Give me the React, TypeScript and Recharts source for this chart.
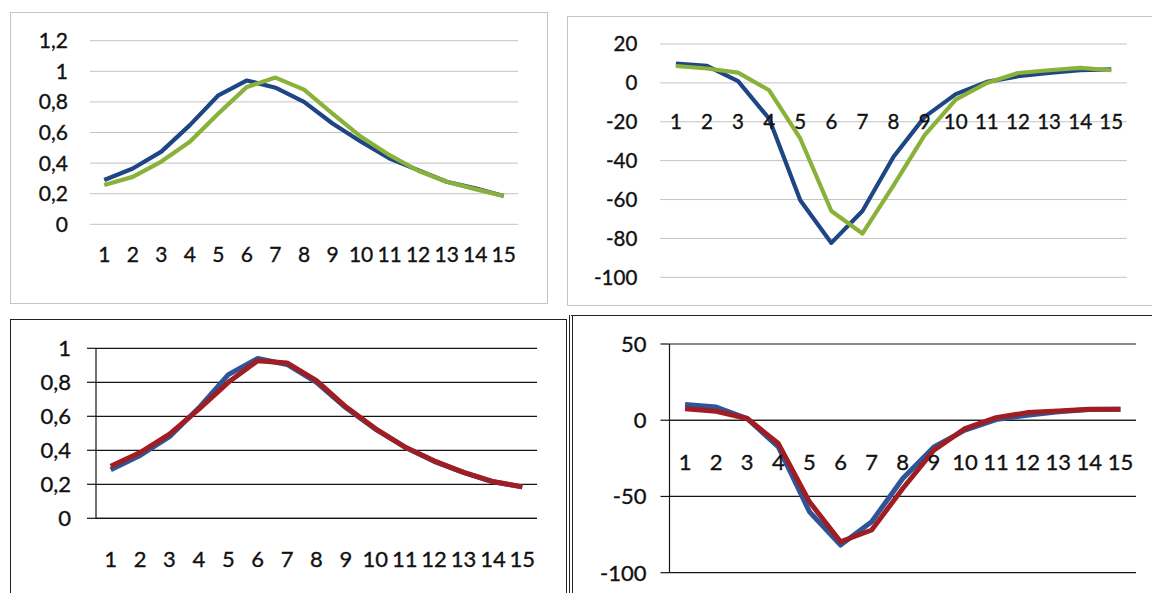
import React from 'react';
import { LineChart, Line, XAxis, YAxis, CartesianGrid, ReferenceDot, ReferenceLine } from 'recharts';

const categories = ['1', '2', '3', '4', '5', '6', '7', '8', '9', '10', '11', '12', '13', '14', '15'];
// category boundaries (tick marks between categories) on a 0..15 scale
const boundaries = [0, 1, 2, 3, 4, 5, 6, 7, 8, 9, 10, 11, 12, 13, 14, 15];

// top-left panel
const p1Blue = [0.29, 0.365, 0.475, 0.648, 0.843, 0.94, 0.893, 0.8, 0.659, 0.54, 0.43, 0.354, 0.278, 0.235, 0.185];
const p1Green = [0.257, 0.31, 0.41, 0.54, 0.724, 0.898, 0.959, 0.88, 0.724, 0.572, 0.452, 0.35, 0.278, 0.23, 0.185];
// top-right panel
const p2Blue = [9.9, 8.7, 0.9, -18.4, -60.4, -82.3, -65.9, -38, -17.5, -5.8, 0.5, 3.4, 5.1, 6.5, 6.9];
const p2Green = [8.7, 7.4, 5.3, -3.8, -28.6, -65.9, -77.5, -52.7, -26.9, -8.6, 0, 5.1, 6.5, 7.7, 6.5];
// bottom-left panel
const p3Blue = [0.285, 0.37, 0.48, 0.65, 0.845, 0.94, 0.905, 0.8, 0.65, 0.525, 0.42, 0.335, 0.27, 0.215, 0.185];
const p3Red = [0.306, 0.387, 0.495, 0.642, 0.8, 0.927, 0.914, 0.81, 0.656, 0.528, 0.42, 0.338, 0.27, 0.216, 0.185];
// bottom-right panel
const p4Blue = [10.3, 8.7, 1.1, -17.5, -60, -81.9, -66.6, -38.2, -17.5, -6.5, 0.4, 3.3, 5.5, 7, 7.2];
const p4Red = [7.6, 5.9, 1.1, -15.3, -53.5, -79.7, -72, -44.8, -19.7, -5.5, 1.7, 5, 6.1, 7.2, 7.2];

const p1Ticks = [0, 0.2, 0.4, 0.6, 0.8, 1, 1.2];
const p2Ticks = [-100, -80, -60, -40, -20, 0, 20];
const p3Ticks = [0, 0.2, 0.4, 0.6, 0.8, 1];
const p4Ticks = [-100, -50, 0, 50];

const p1Domain = [0, 1.2];
const p2Domain = [-100, 20];
const p3Domain = [0, 1];
const p4Domain = [-100, 50];
const p4UpperDomain = [0, 50];

const data1 = categories.map((c, i) => ({ cat: c, a: p1Blue[i], b: p1Green[i] }));
const data2 = categories.map((c, i) => ({ cat: c, a: p2Blue[i], b: p2Green[i] }));
const data3 = categories.map((c, i) => ({ cat: c, a: p3Blue[i], b: p3Red[i] }));
const data4 = categories.map((c, i) => ({ cat: c, a: p4Blue[i], b: p4Red[i] }));

const BLUE = '#1f4684';
const GREEN = '#8ab13a';
const BLUE2 = '#2d5597';
const RED = '#a01d22';
const TEXT = '#111111';
const GRID = '#c2c2c2';
const BLACK = '#151515';

const fmt = (v: number) => String(v).replace('.', ',');
const tickStyle = (fontSize: number) => ({ fontSize, fill: TEXT, stroke: TEXT, strokeWidth: 0.35 });
const NoLabel = () => <g />;

const zeroLabels = (prefix: string, fontSize: number, offset: number) =>
  categories.map((c) => (
    <ReferenceDot
      key={prefix + c}
      x={c}
      y={0}
      r={0}
      stroke="none"
      fill="none"
      ifOverflow="visible"
      label={{ value: c, position: 'bottom', offset, ...tickStyle(fontSize) }}
    />
  ));

// a transparent overlay whose only element is a category-boundary axis (tick marks between categories)
const BoundaryTicks = ({ width, height, left, right, top, domain }: any) => (
  <LineChart width={width} height={height} data={[]} margin={{ top, right, left, bottom: 0 }}>
    <XAxis
      xAxisId="edges"
      type="number"
      domain={[0, 15]}
      ticks={boundaries}
      allowDataOverflow
      interval={0}
      height={10}
      axisLine={false}
      tickLine={{ stroke: BLACK, strokeWidth: 1.2 }}
      tickSize={7}
      tick={NoLabel}
    />
    <YAxis domain={domain} hide />
  </LineChart>
);

export default function App() {
  return (
    <div
      style={{
        position: 'absolute',
        left: 0,
        top: 0,
        width: 1152,
        height: 593,
        overflow: 'hidden',
        background: '#ffffff',
        fontFamily: 'Lato, "Open Sans", sans-serif',
      }}
    >
      {/* frames */}
      <div style={{ position: 'absolute', left: 10, top: 12, width: 538, height: 292, boxSizing: 'border-box', border: '1px solid #c4c4c4' }} />
      <div style={{ position: 'absolute', left: 567, top: 16, width: 600, height: 290, boxSizing: 'border-box', border: '1px solid #c4c4c4' }} />
      <div style={{ position: 'absolute', left: 10, top: 319, width: 557, height: 300, boxSizing: 'border-box', border: '1px solid #222' }} />
      <div style={{ position: 'absolute', left: 569, top: 315, width: 600, height: 300, boxSizing: 'border-box', borderLeft: '4px double #222', borderTop: '1.5px solid #222' }} />

      {/* top-left */}
      <div style={{ position: 'absolute', left: 10, top: 12 }}>
        <LineChart width={538} height={292} data={data1} margin={{ top: 28.7, right: 30, left: 0, bottom: 0 }}>
          <CartesianGrid vertical={false} stroke={GRID} strokeWidth={1} />
          <XAxis dataKey="cat" scale="band" height={79.7} axisLine={false} tickLine={false} tickSize={0} tickMargin={23} interval={0} tick={tickStyle(21)} />
          <YAxis width={80} domain={p1Domain} ticks={p1Ticks} tickFormatter={fmt} axisLine={false} tickLine={false} tickSize={0} tickMargin={22} interval={0} tick={tickStyle(21)} />
          <Line dataKey="a" stroke={BLUE} strokeWidth={4.2} dot={false} isAnimationActive={false} strokeLinejoin="round" />
          <Line dataKey="b" stroke={GREEN} strokeWidth={4.2} dot={false} isAnimationActive={false} strokeLinejoin="round" />
        </LineChart>
      </div>

      {/* top-right */}
      <div style={{ position: 'absolute', left: 567, top: 16 }}>
        <LineChart width={585} height={290} data={data2} margin={{ top: 28, right: 25.2, left: 0, bottom: 28.7 }}>
          <CartesianGrid vertical={false} stroke={GRID} strokeWidth={1} />
          <XAxis dataKey="cat" scale="band" hide />
          <YAxis width={93.3} domain={p2Domain} ticks={p2Ticks} axisLine={false} tickLine={false} tickSize={0} tickMargin={23} interval={0} tick={tickStyle(20.5)} />
          {zeroLabels('p2', 20.5, 31.6)}
          <Line dataKey="a" stroke={BLUE} strokeWidth={4.2} dot={false} isAnimationActive={false} strokeLinejoin="round" />
          <Line dataKey="b" stroke={GREEN} strokeWidth={4.2} dot={false} isAnimationActive={false} strokeLinejoin="round" />
        </LineChart>
      </div>

      {/* bottom-left */}
      <div style={{ position: 'absolute', left: 10, top: 319 }}>
        <LineChart width={557} height={274} data={data3} margin={{ top: 29.3, right: 30, left: 0, bottom: 0 }}>
          <CartesianGrid vertical={false} stroke={BLACK} strokeWidth={1.2} />
          <XAxis dataKey="cat" scale="band" height={74.7} axisLine={{ stroke: BLACK, strokeWidth: 1.2 }} tickLine={false} tickSize={0} tickMargin={33} interval={0} tick={tickStyle(22)} />
          <YAxis width={86} domain={p3Domain} ticks={p3Ticks} tickFormatter={fmt} axisLine={{ stroke: BLACK, strokeWidth: 1.2 }} tickLine={{ stroke: BLACK, strokeWidth: 1.2 }} tickSize={9} tickMargin={16} interval={0} tick={tickStyle(22)} />
          <Line dataKey="a" stroke={BLUE2} strokeWidth={5} dot={false} isAnimationActive={false} strokeLinejoin="round" />
          <Line dataKey="b" stroke={RED} strokeWidth={5} dot={false} isAnimationActive={false} strokeLinejoin="round" />
        </LineChart>
      </div>
      <div style={{ position: 'absolute', left: 10, top: 319 }}>
        <BoundaryTicks width={557} height={209.3} left={86} right={30} top={29.3} domain={p3Domain} />
      </div>

      {/* bottom-right */}
      <div style={{ position: 'absolute', left: 570, top: 315 }}>
        <LineChart width={582} height={278} data={data4} margin={{ top: 29, right: 16, left: 0, bottom: 20.3 }}>
          <CartesianGrid vertical={false} stroke={BLACK} strokeWidth={1.2} />
          <XAxis dataKey="cat" scale="band" hide />
          <YAxis width={99.5} domain={p4Domain} ticks={p4Ticks} axisLine={{ stroke: BLACK, strokeWidth: 1.2 }} tickLine={{ stroke: BLACK, strokeWidth: 1.2 }} tickSize={9} tickMargin={14} interval={0} tick={tickStyle(22)} />
          <ReferenceLine y={0} stroke={BLACK} strokeWidth={1.2} />
          {zeroLabels('p4', 22, 33.8)}
          <Line dataKey="a" stroke={BLUE2} strokeWidth={5} dot={false} isAnimationActive={false} strokeLinejoin="round" />
          <Line dataKey="b" stroke={RED} strokeWidth={5} dot={false} isAnimationActive={false} strokeLinejoin="round" />
        </LineChart>
      </div>
      <div style={{ position: 'absolute', left: 570, top: 315 }}>
        <BoundaryTicks width={582} height={115} left={99.5} right={16} top={29} domain={p4UpperDomain} />
      </div>
    </div>
  );
}
